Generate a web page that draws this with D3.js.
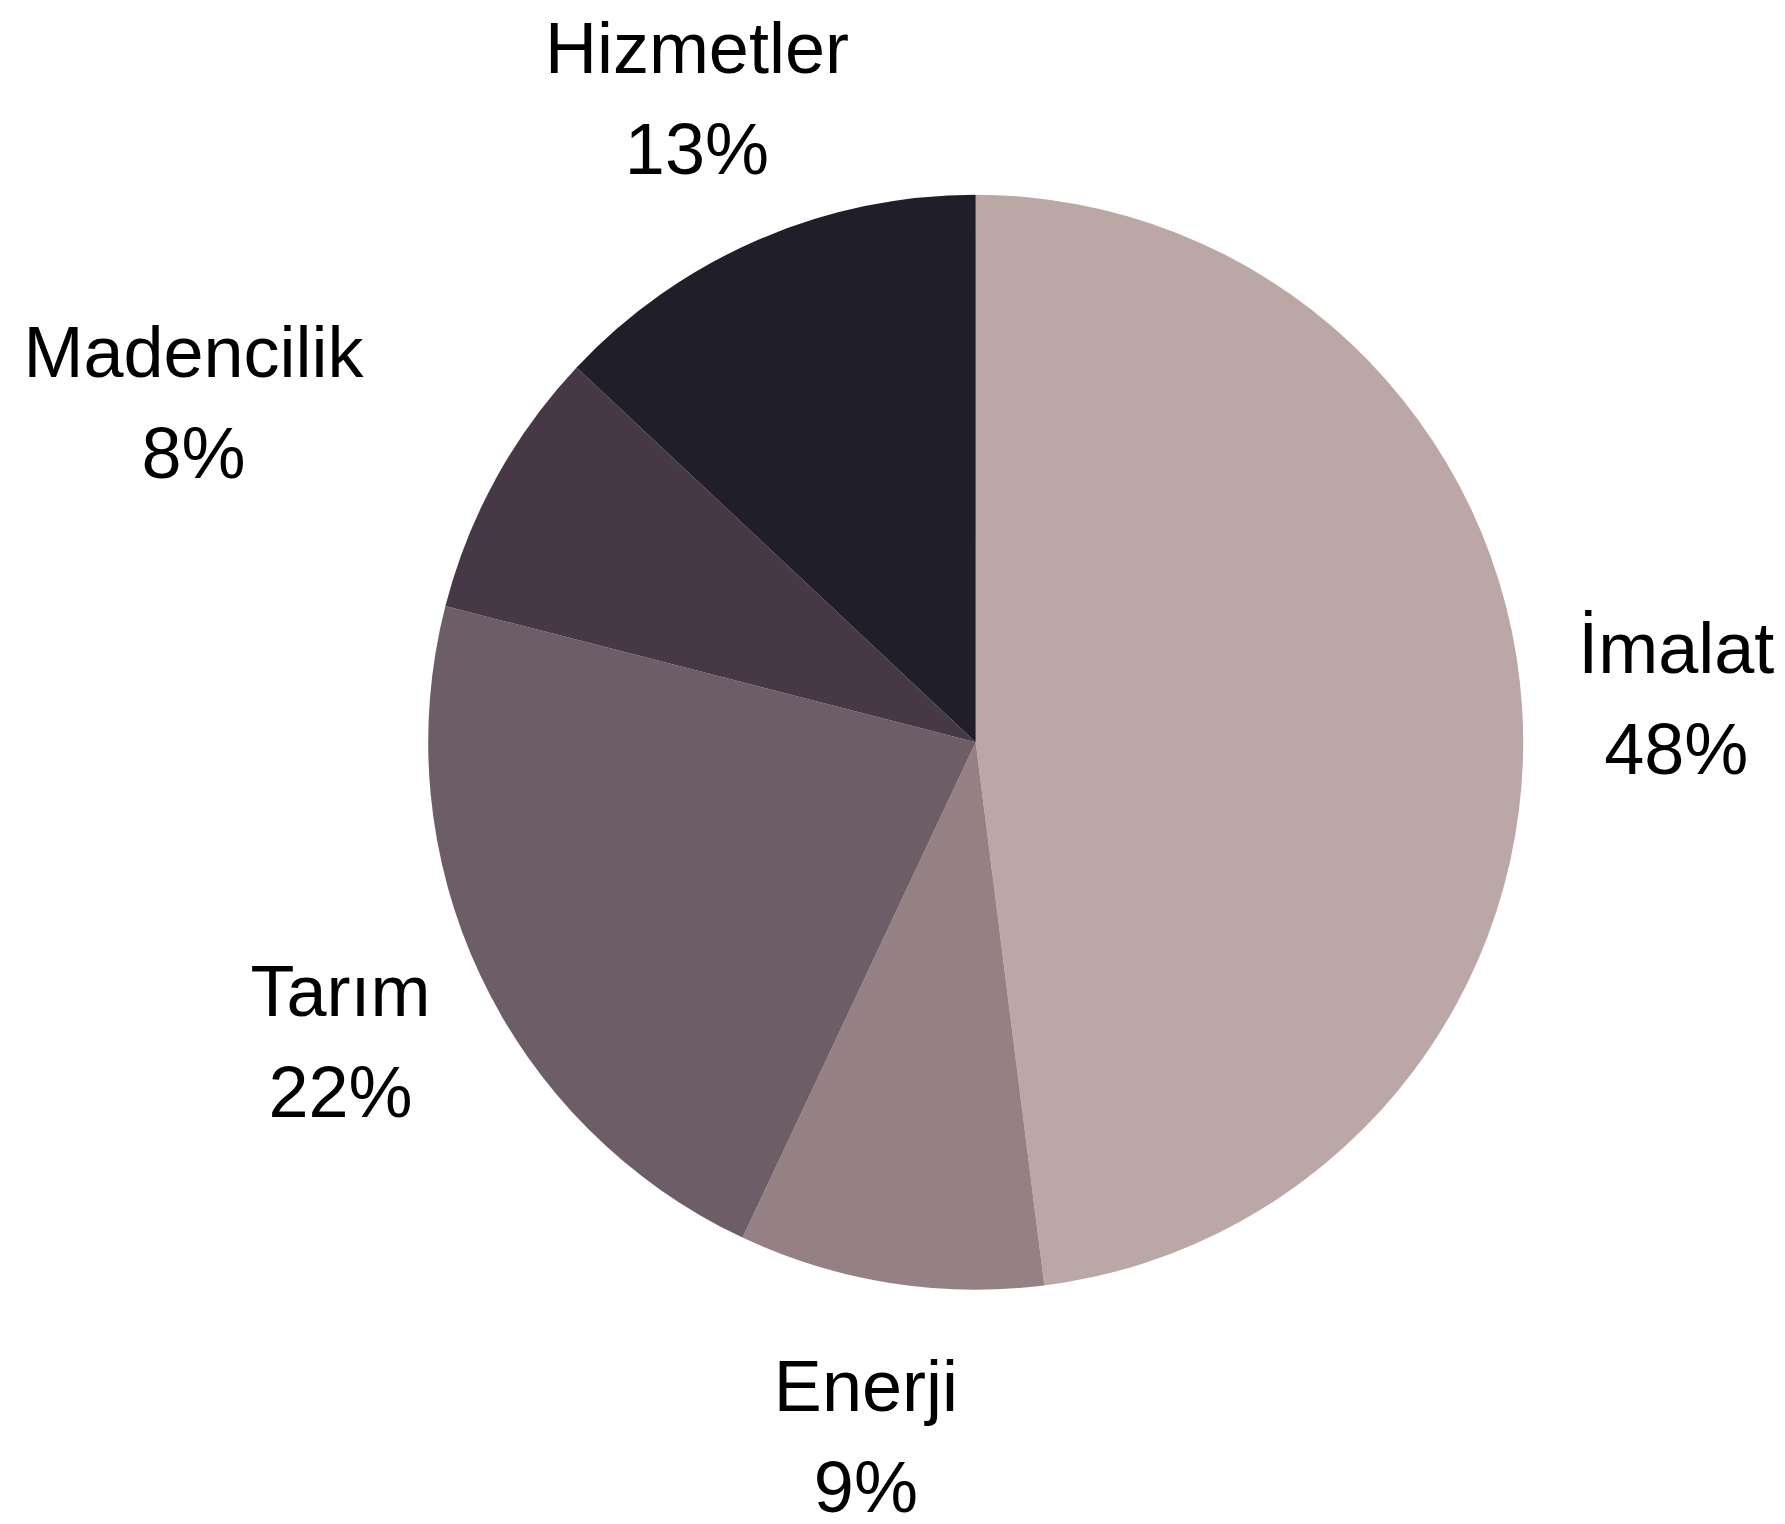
<!DOCTYPE html>
<html>
<head>
<meta charset="utf-8">
<script src="https://cdn.jsdelivr.net/npm/d3@7"></script>
<style>
  body { margin: 0; background: #fff; }
  svg { display: block; }
</style>
</head>
<body>
<svg id="chart"></svg>
<script>
// sector shares, clockwise from 12 o'clock
var sectors = ["İmalat", "Enerji", "Tarım", "Madencilik", "Hizmetler"];
var shares = [48, 9, 22, 8, 13];
var sectorColors = ["#bca7a7", "#958084", "#6d5d66", "#463945", "#201e29"];

var width = 1785;
var height = 1524;
var cx = 975.7;
var cy = 742.2;
var radius = 547.5;
var labelRadius = 702;
var fontSize = 72;
var lineGap = 101;
// Madencilik label sits further out in the original
var labelShift = { "Madencilik": [-167, -2] };

var svg = d3.select("#chart")
  .attr("width", width)
  .attr("height", height);

svg.append("rect")
  .attr("width", width)
  .attr("height", height)
  .attr("fill", "#fff");

var rows = sectors.map(function (s, i) {
  return { name: s, value: shares[i] };
});

var color = d3.scaleOrdinal()
  .domain(sectors)
  .range(sectorColors);

var pie = d3.pie()
  .sort(null)
  .value(function (d) { return d.value; });

var arc = d3.arc()
  .innerRadius(0)
  .outerRadius(radius);

var labelArc = d3.arc()
  .innerRadius(labelRadius)
  .outerRadius(labelRadius);

var g = svg.append("g")
  .attr("transform", "translate(" + cx + "," + cy + ")");

var arcs = pie(rows);

g.selectAll(".slice")
  .data(arcs)
  .enter()
  .append("path")
  .attr("class", "slice")
  .attr("d", arc)
  .attr("fill", function (d) { return color(d.data.name); });

var labels = g.selectAll(".label")
  .data(arcs)
  .enter()
  .append("text")
  .attr("class", "label")
  .attr("text-anchor", "middle")
  .style("font-family", "'Liberation Sans', Arial, sans-serif")
  .style("font-size", fontSize + "px")
  .attr("fill", "#000")
  .attr("transform", function (d) {
    var c = labelArc.centroid(d);
    var s = labelShift[d.data.name] || [0, 0];
    return "translate(" + (c[0] + s[0]) + "," + (c[1] + s[1]) + ")";
  });

labels.append("tspan")
  .attr("x", 0)
  .attr("y", -25)
  .text(function (d) { return d.data.name; });

labels.append("tspan")
  .attr("x", 0)
  .attr("y", -25 + lineGap)
  .text(function (d) { return d.data.value + "%"; });
</script>
</body>
</html>
